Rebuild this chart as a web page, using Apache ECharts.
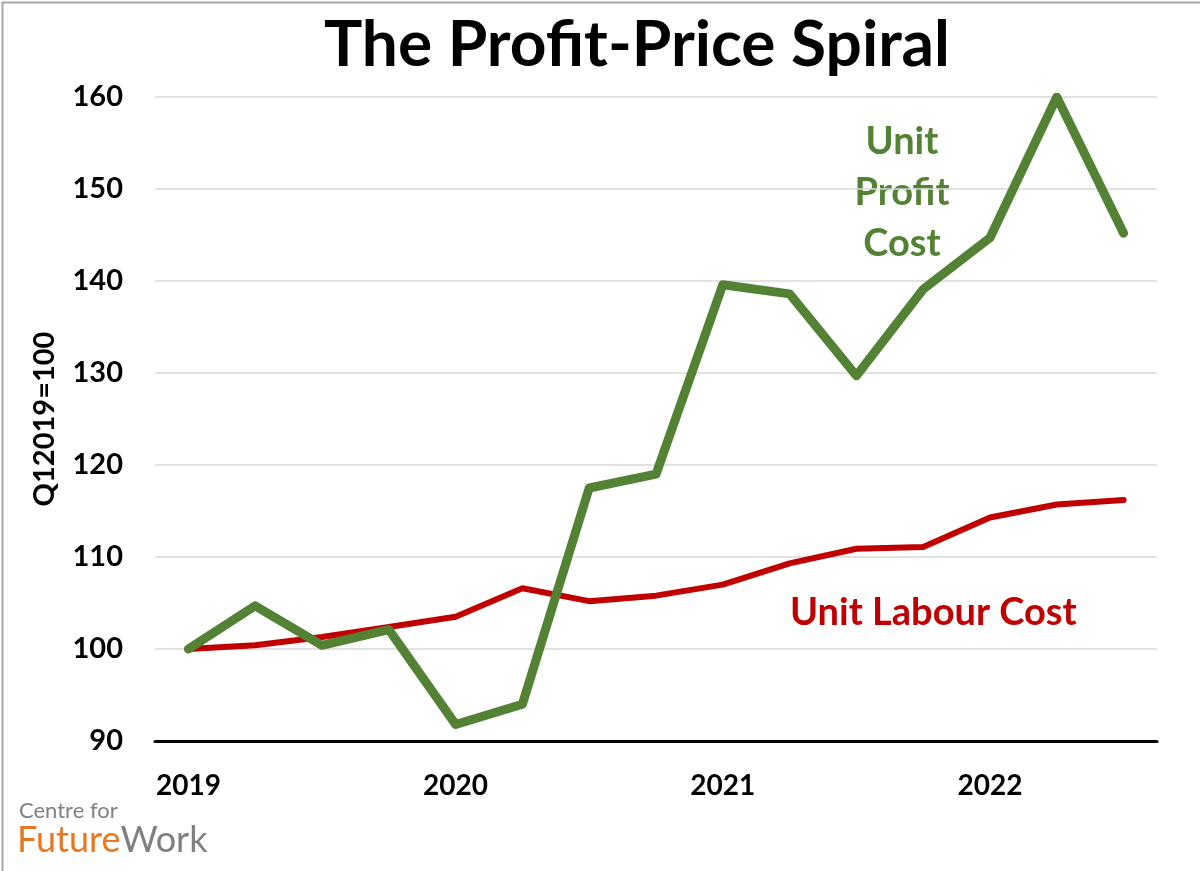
<!DOCTYPE html>
<html lang="en">
<head>
    <meta charset="UTF-8">
    <title>The Profit-Price Spiral</title>
    <script src="https://cdn.jsdelivr.net/npm/echarts@6/dist/echarts.min.js"></script>
    <style>
        html, body { margin: 0; height: 100%; background: #fff; }
        #main { width: 1200px; height: 871px; }
    </style>
</head>
<body>
<div id="main"></div>
<script>
    // quarters, 2019Q1 .. 2022Q3
    var quarters = ['2019Q1','2019Q2','2019Q3','2019Q4','2020Q1','2020Q2','2020Q3','2020Q4',
                    '2021Q1','2021Q2','2021Q3','2021Q4','2022Q1','2022Q2','2022Q3'];
    // index, Q1 2019 = 100
    var unitProfit = [100, 104.7, 100.4, 102.1, 91.8, 94.0, 117.5, 119.0,
                      139.6, 138.6, 129.7, 139.1, 144.7, 160.0, 145.2];
    var unitLabour = [100, 100.4, 101.3, 102.4, 103.5, 106.6, 105.2, 105.8,
                      107.0, 109.3, 110.9, 111.1, 114.3, 115.7, 116.2];
    var yTicks = [90, 100, 110, 120, 130, 140, 150, 160];

    var fontFam = 'Lato, "Open Sans", sans-serif';
    var green = '#548235';
    var red = '#c00000';

    var chart = echarts.init(document.getElementById('main'));

    var option = {
        backgroundColor: '#fff',
        animation: false,
        title: {
            text: 'The Profit-Price Spiral',
            left: 632,
            top: 8,
            textAlign: 'center',
            textStyle: { fontFamily: fontFam, fontWeight: 'bold', fontSize: 64, color: '#000' }
        },
        grid: { left: 155, right: 43, top: 97, bottom: 130 },
        xAxis: {
            type: 'category',
            data: quarters,
            boundaryGap: true,
            axisLine: { lineStyle: { color: '#000', width: 3 } },
            axisTick: { show: false },
            axisLabel: {
                interval: 0,
                margin: 31,
                fontFamily: fontFam, fontWeight: 'bold', fontSize: 28, color: '#000',
                formatter: function (v) { return v.slice(4) === 'Q1' ? v.slice(0, 4) : ''; }
            }
        },
        yAxis: {
            type: 'value',
            min: yTicks[0],
            max: yTicks[yTicks.length - 1],
            interval: 10,
            name: 'Q12019=100',
            nameLocation: 'middle',
            nameGap: 96,
            nameRotate: 90,
            nameTextStyle: { fontFamily: fontFam, fontWeight: 'bold', fontSize: 29, color: '#000' },
            axisLine: { show: false },
            axisTick: { show: false },
            axisLabel: { margin: 32, fontFamily: fontFam, fontWeight: 'bold', fontSize: 29, color: '#000' },
            splitLine: { lineStyle: { color: '#d9d9d9', width: 1.5 } }
        },
        series: [
            {
                name: 'Unit Labour Cost',
                type: 'line',
                data: unitLabour,
                symbol: 'none',
                lineStyle: { color: red, width: 6, cap: 'round', join: 'round' },
                z: 2
            },
            {
                name: 'Unit Profit Cost',
                type: 'line',
                data: unitProfit,
                symbol: 'none',
                lineStyle: { color: green, width: 9, cap: 'round', join: 'round' },
                z: 3
            }
        ],
        graphic: [
            {
                type: 'rect', left: 0, top: 0, z: 100, silent: true,
                shape: { width: 1199, height: 870 },
                style: { fill: 'none', stroke: '#a6a6a6', lineWidth: 2 }
            },
            {
                type: 'text', x: 902, y: 116,
                style: {
                    text: 'Unit\nProfit\nCost', align: 'center', verticalAlign: 'top', lineHeight: 51,
                    font: 'bold 38px ' + fontFam, fill: green
                }
            },
            {
                type: 'text', x: 790, y: 613,
                style: {
                    text: 'Unit Labour Cost', verticalAlign: 'middle',
                    font: 'bold 38px ' + fontFam, fill: red
                }
            },
            {
                type: 'text', left: 19, top: 800,
                style: { text: 'Centre for', font: '22px ' + fontFam, fill: '#7f7f7f' }
            },
            {
                type: 'text', left: 17, top: 822,
                style: {
                    text: '{a|Future}{b|Work}',
                    rich: {
                        a: { fontFamily: fontFam, fontSize: 36, fill: '#e87722' },
                        b: { fontFamily: fontFam, fontSize: 36, fill: '#808080' }
                    }
                }
            }
        ]
    };

    chart.setOption(option);
</script>
</body>
</html>
